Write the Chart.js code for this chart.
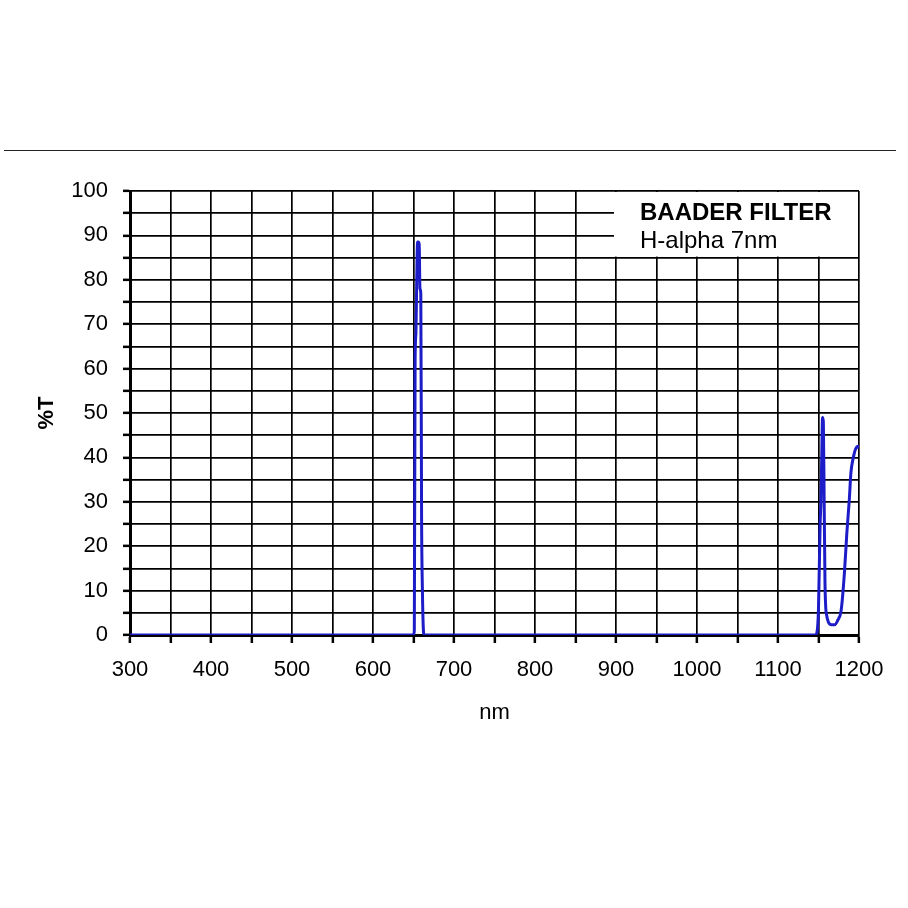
<!DOCTYPE html>
<html>
<head>
<meta charset="utf-8">
<script src="https://cdn.jsdelivr.net/npm/chart.js@4.4.1/dist/chart.umd.min.js"></script>
<style>
    html, body { margin: 0; padding: 0; background: #fff; }
    #filter-chart { display: block; }
</style>
</head>
<body>
<canvas id="filter-chart" width="908" height="908"></canvas>
<script>
    // transmission curve
    var wavelengthNm = [300, 400, 500, 600, 650,
        651, 652, 653, 654, 655, 656, 657, 658, 659, 660, 661, 662, 663,
        700, 800, 900, 1000, 1100,
        1146, 1148, 1150, 1152, 1153, 1154, 1155, 1156, 1157, 1158, 1159, 1160,
        1162, 1166, 1170, 1174, 1178, 1182, 1185, 1188, 1190, 1193, 1196, 1199, 1200];
    var transmission = [0, 0, 0, 0, 0,
        1, 62, 68, 80, 88.5, 88.5, 88, 78, 77, 26, 10, 2, 0,
        0, 0, 0, 0, 0,
        0, 0.5, 6, 25, 30, 40, 49, 48, 30, 12, 6, 4.5,
        3, 2.3, 2.3, 3.4, 5.6, 14, 23, 30.4, 36.5, 40, 42, 42.5, 42];

    var legendLines = ['BAADER FILTER', 'H-alpha 7nm'];
    var legendRange = { xFrom: 900, xTo: 1200, yFrom: 85, yTo: 100 };

    var points = wavelengthNm.map(function (w, i) {
        return { x: w, y: transmission[i] };
    });

    // white box in the upper right corner with the filter name
    var filterLabel = {
        id: 'filterLabel',
        beforeDatasetsDraw: function (chart) {
            var ctx = chart.ctx;
            var xs = chart.scales.x, ys = chart.scales.y;
            var l = xs.getPixelForValue(legendRange.xFrom) - 2;
            var r = xs.getPixelForValue(legendRange.xTo) - 1;
            var t = ys.getPixelForValue(legendRange.yTo) + 1;
            var b = ys.getPixelForValue(legendRange.yFrom) - 1;
            ctx.save();
            ctx.fillStyle = '#fff';
            ctx.fillRect(l, t, r - l, b - t);
            ctx.fillStyle = '#000';
            ctx.textBaseline = 'alphabetic';
            ctx.font = 'bold 24px "Liberation Sans", Arial, sans-serif';
            ctx.fillText(legendLines[0], l + 26, t + 28);
            ctx.font = '24px "Liberation Sans", Arial, sans-serif';
            ctx.fillText(legendLines[1], l + 26, t + 56);
            ctx.restore();
        },
        afterDraw: function (chart) {
            // rule across the top of the page
            var ctx = chart.ctx;
            ctx.save();
            ctx.strokeStyle = '#222';
            ctx.lineWidth = 1;
            ctx.beginPath();
            ctx.moveTo(4, 150.5);
            ctx.lineTo(896, 150.5);
            ctx.stroke();
            ctx.restore();
        }
    };

    var ctx = document.getElementById('filter-chart').getContext('2d');
    Chart.defaults.font.family = '"Liberation Sans", Arial, sans-serif';
    Chart.defaults.color = '#000';

    new Chart(ctx, {
        type: 'line',
        data: {
            datasets: [{
                label: 'H-alpha 7nm',
                data: points,
                borderColor: '#1c1cc8',
                borderWidth: 3,
                pointRadius: 0,
                fill: false,
                cubicInterpolationMode: 'monotone',
            }]
        },
        plugins: [filterLabel],
        options: {
            responsive: false,
            animation: false,
            devicePixelRatio: 1,
            layout: {
                padding: { left: 0, right: 49, top: 191, bottom: 153 }
            },
            plugins: {
                legend: { display: false },
                tooltip: { enabled: false },
            },
            scales: {
                x: {
                    type: 'linear',
                    min: 300,
                    max: 1200,
                    afterFit: function (scale) { scale.height = 120; },
                    ticks: {
                        stepSize: 50,
                        autoSkip: false,
                        maxRotation: 0,
                        padding: 14,
                        font: { size: 22 },
                        callback: function (v) { return v % 100 === 0 ? v : ''; }
                    },
                    grid: { color: '#000', lineWidth: 1.7, tickLength: 8, tickWidth: 2.5 },
                    border: { display: true, color: '#000', width: 3 },
                    title: {
                        display: true,
                        text: 'nm',
                        font: { size: 22 },
                        padding: { top: 0, bottom: 29 }
                    }
                },
                y: {
                    min: 0,
                    max: 100,
                    afterFit: function (scale) { scale.width = 130; },
                    ticks: {
                        stepSize: 5,
                        autoSkip: false,
                        padding: 15,
                        font: { size: 22 },
                        callback: function (v) { return v % 10 === 0 ? v : ''; }
                    },
                    grid: { color: '#000', lineWidth: 1.7, tickLength: 7, tickWidth: 2.5 },
                    border: { display: true, color: '#000', width: 3 },
                    title: {
                        display: true,
                        text: '%T',
                        font: { size: 22, weight: 'bold' },
                        padding: { top: 34, bottom: 0 }
                    }
                }
            }
        }
    });
</script>
</body>
</html>
